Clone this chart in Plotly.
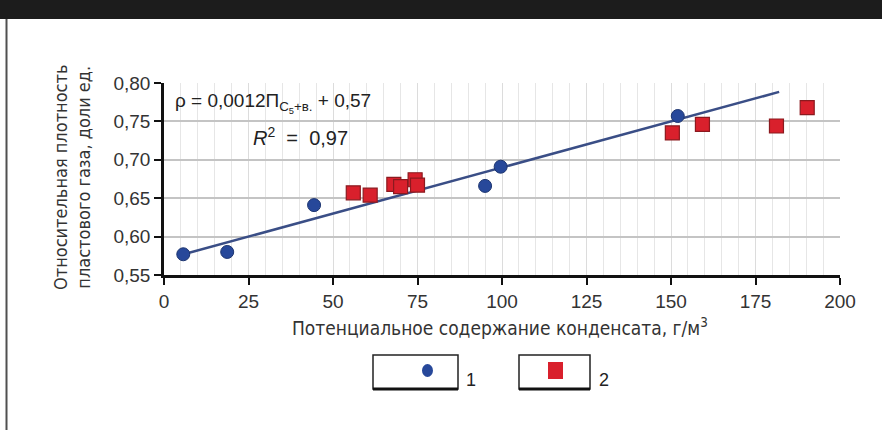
import plotly.graph_objects as go

# Condensate content, g/m3 (x) and relative density of reservoir gas (y)
group1_x = [5.7, 18.7, 44.4, 95.0, 99.6, 152.0]
group1_y = [0.577, 0.580, 0.641, 0.666, 0.691, 0.757]

group2_x = [56.0, 61.0, 68.0, 70.0, 74.3, 75.0, 150.4, 159.3, 181.2, 190.3]
group2_y = [0.657, 0.654, 0.668, 0.665, 0.674, 0.667, 0.735, 0.746, 0.744, 0.768]

# Linear fit  rho = 0.0012 * P + 0.57
fit_slope = 0.0012
fit_intercept = 0.57
fit_x = [5.0, 182.0]
fit_y = [fit_slope * v + fit_intercept for v in fit_x]

x_tick_vals = [0, 25, 50, 75, 100, 125, 150, 175, 200]
y_tick_vals = [0.55, 0.60, 0.65, 0.70, 0.75, 0.80]

W, H = 882, 430
L, R, T, B = 164, 42, 83, 155
PW, PH = W - L - R, H - T - B


def px(xp):
    return (xp - L) / PW


def py(yp):
    return (H - B - yp) / PH


BLUE = "#27489a"
RED = "#d9202c"
SANS = "Liberation Sans, Arial, sans-serif"
NARROW = "DejaVu Sans Condensed, Liberation Sans, sans-serif"
TICK_FONT = dict(family=SANS, size=19, color="#333333")

fig = go.Figure()

fig.add_trace(go.Scatter(
    x=fit_x, y=fit_y, mode="lines",
    line=dict(color="#3a4e86", width=2.5), showlegend=False, hoverinfo="skip"))

fig.add_trace(go.Scatter(
    x=group1_x, y=group1_y, mode="markers",
    marker=dict(symbol="circle", size=13, color=BLUE,
                line=dict(color="#1d3570", width=1)),
    showlegend=False))

fig.add_trace(go.Scatter(
    x=group2_x, y=group2_y, mode="markers",
    marker=dict(symbol="square", size=14, color=RED,
                line=dict(color="#8b1a1f", width=1.2)),
    showlegend=False))

shapes = []
# dark header band
shapes.append(dict(type="rect", xref="paper", yref="paper",
                   x0=px(0), x1=px(W), y0=py(19), y1=py(0),
                   fillcolor="#1c1c1c", line=dict(width=0), layer="below"))
# left frame line
shapes.append(dict(type="line", xref="paper", yref="paper",
                   x0=px(6.5), x1=px(6.5), y0=py(19), y1=py(H),
                   line=dict(color="#505050", width=2)))
# white panel behind the equation
shapes.append(dict(type="rect", xref="paper", yref="paper",
                   x0=px(165), x1=px(443), y0=py(150), y1=py(82),
                   fillcolor="white", line=dict(width=0), layer="between"))

# custom legend boxes
for x0, x1 in [(373, 458), (519, 590)]:
    shapes.append(dict(type="rect", xref="paper", yref="paper",
                       x0=px(x0), x1=px(x1), y0=py(389), y1=py(355),
                       fillcolor="white", line=dict(color="#222222", width=1.5)))
    shapes.append(dict(type="line", xref="paper", yref="paper",
                       x0=px(x0), x1=px(x1), y0=py(389), y1=py(389),
                       line=dict(color="#111111", width=3)))
shapes.append(dict(type="circle", xref="paper", yref="paper",
                   x0=px(422), x1=px(433), y0=py(377), y1=py(364),
                   fillcolor=BLUE, line=dict(width=0)))
shapes.append(dict(type="rect", xref="paper", yref="paper",
                   x0=px(548), x1=px(563), y0=py(379), y1=py(362),
                   fillcolor=RED, line=dict(width=0)))

annotations = [
    dict(text="ρ = 0,0012П<sub>C<sub>5</sub>+в.</sub> + 0,57",
         xref="paper", yref="paper", x=px(173), y=py(103),
         xanchor="left", yanchor="middle", showarrow=False,
         font=dict(family=SANS, size=19, color="#222222")),
    dict(text="<i>R</i><sup>2</sup>  =  0,97",
         xref="paper", yref="paper", x=px(300), y=py(136),
         xanchor="center", yanchor="middle", showarrow=False,
         font=dict(family=SANS, size=20, color="#222222")),
    dict(text="Относительная плотность<br>пластового газа, доли ед.",
         xref="paper", yref="paper", x=px(72), y=py(178),
         xanchor="center", yanchor="middle", showarrow=False, textangle=-90,
         font=dict(family=NARROW, size=18, color="#333333")),
    dict(text="Потенциальное содержание конденсата, г/м<sup>3</sup>",
         xref="paper", yref="paper", x=px(500), y=py(327),
         xanchor="center", yanchor="middle", showarrow=False,
         font=dict(family=NARROW, size=19, color="#333333")),
    dict(text="1", xref="paper", yref="paper", x=px(471), y=py(380),
         xanchor="center", yanchor="middle", showarrow=False,
         font=dict(family=SANS, size=18, color="#222222")),
    dict(text="2", xref="paper", yref="paper", x=px(604), y=py(380),
         xanchor="center", yanchor="middle", showarrow=False,
         font=dict(family=SANS, size=18, color="#222222")),
]

fig.update_layout(
    width=W, height=H, autosize=False,
    margin=dict(l=L, r=R, t=T, b=B, pad=0),
    paper_bgcolor="white", plot_bgcolor="white",
    separators=", ",
    shapes=shapes, annotations=annotations,
    showlegend=False,
    xaxis=dict(
        range=[0, 200], tickvals=x_tick_vals,
        ticktext=[str(v) for v in x_tick_vals],
        showgrid=True, gridcolor="#dcdcdc", gridwidth=1,
        minor=dict(dtick=5, showgrid=True, gridcolor="#e6e6e6", gridwidth=1),
        showline=True, linecolor="#111111", linewidth=2.5,
        ticks="outside", ticklen=7, tickwidth=2, tickcolor="#111111",
        tickfont=TICK_FONT, zeroline=False, fixedrange=True),
    yaxis=dict(
        range=[0.55, 0.80], tickvals=y_tick_vals,
        ticktext=[f"{v:.2f}".replace(".", ",") for v in y_tick_vals],
        showgrid=True, gridcolor="#c4c4c4", gridwidth=1.5,
        showline=True, linecolor="#111111", linewidth=2.5,
        ticks="outside", ticklen=7, tickwidth=2, tickcolor="#111111",
        tickfont=TICK_FONT, zeroline=False, fixedrange=True),
)

fig.write_html("out.html")
